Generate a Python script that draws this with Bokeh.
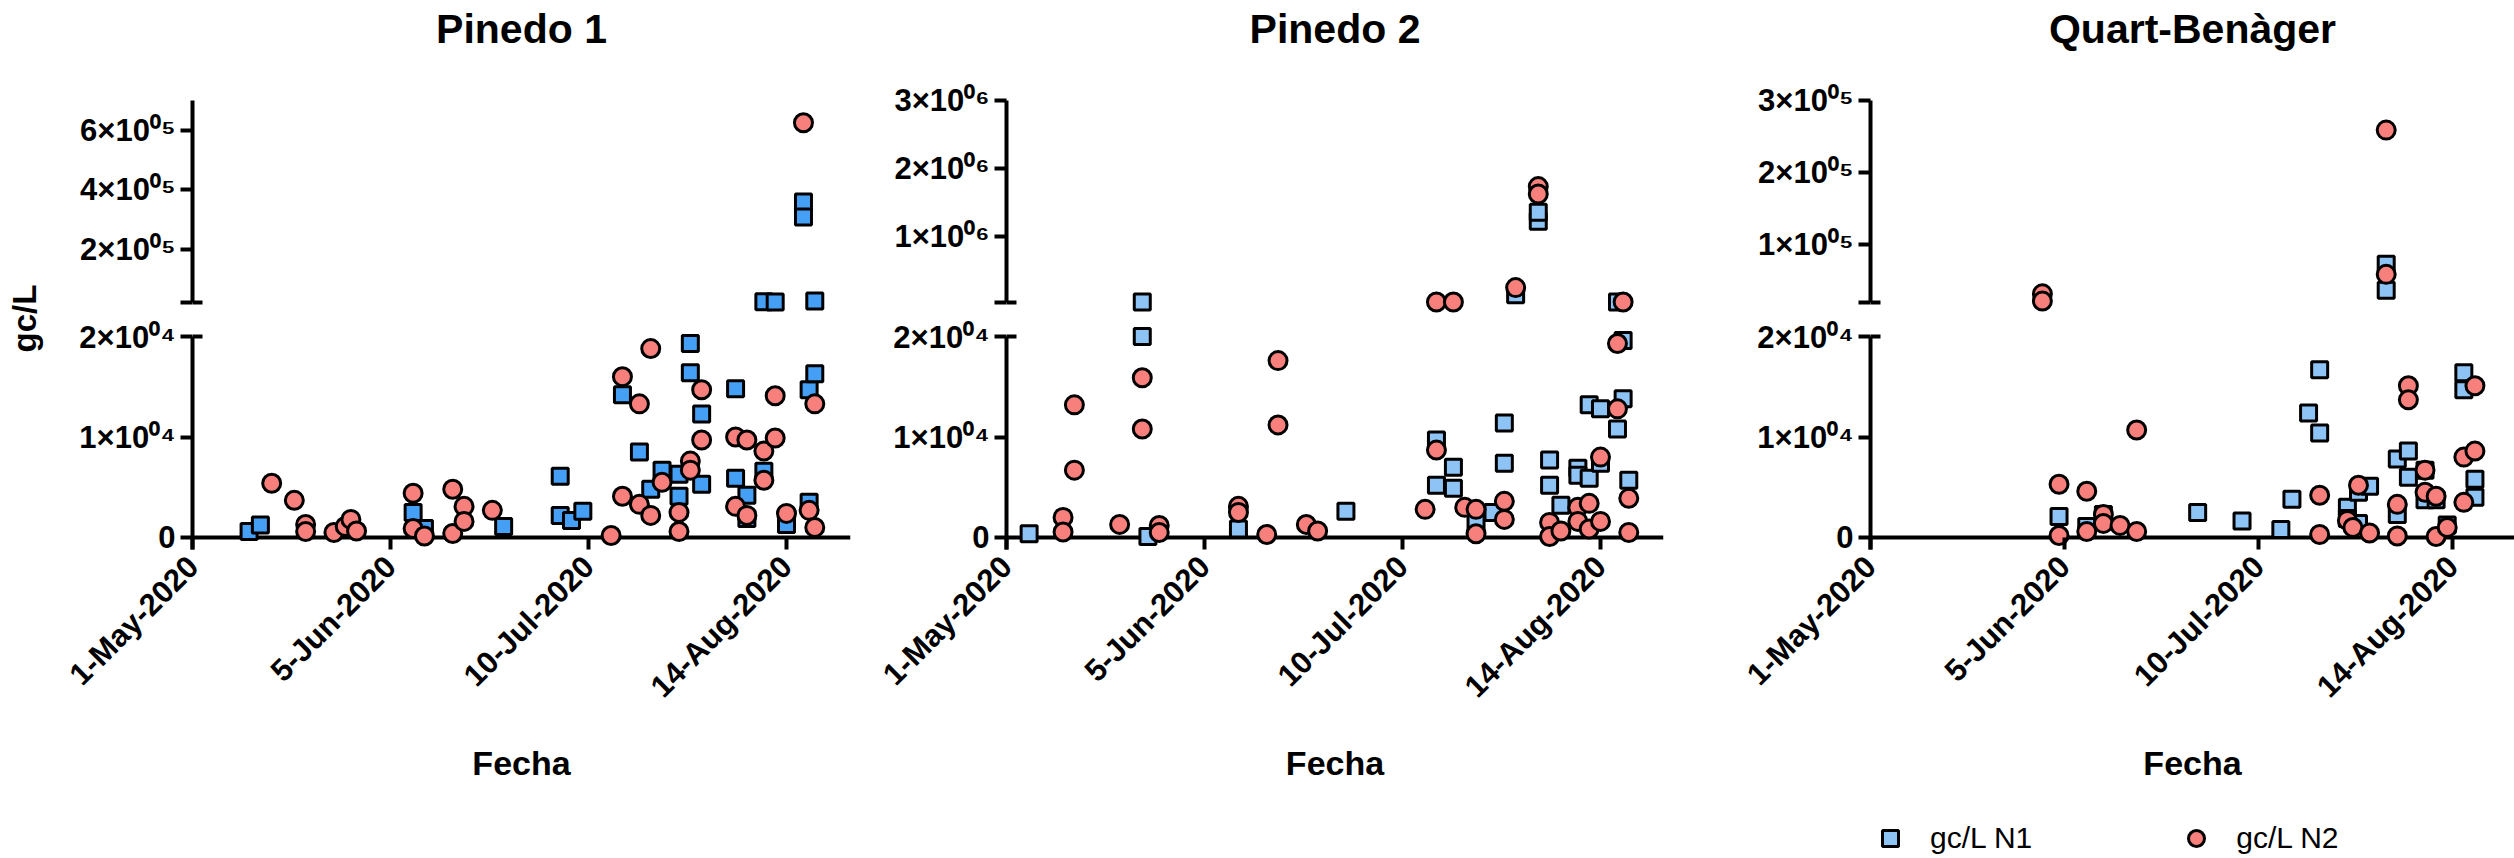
import math
import pandas as pd
from bokeh.plotting import figure
from bokeh.models import (Range1d, LinearAxis, FixedTicker, Span, Title, Legend,
                          LegendItem, ColumnDataSource, Label)
from bokeh.layouts import row, column
from bokeh.embed import file_html
from bokeh.resources import INLINE

# ---------------------------------------------------------------- data
SITES = ["Pinedo 1", "Pinedo 2", "Quart-Benàger"]
SERIES = ["gc/L N1", "gc/L N2"]
Y_LABEL = "gc/L"
X_LABEL = "Fecha"

P1_N1_DATES = ["2020-05-11", "2020-05-13", "2020-06-09", "2020-06-11", "2020-06-25",
               "2020-07-05", "2020-07-05", "2020-07-07", "2020-07-09", "2020-07-16",
               "2020-07-19", "2020-07-21", "2020-07-23", "2020-07-26", "2020-07-26",
               "2020-07-28", "2020-07-28", "2020-07-30", "2020-07-30", "2020-08-05",
               "2020-08-05", "2020-08-07", "2020-08-07", "2020-08-10", "2020-08-10",
               "2020-08-12", "2020-08-14", "2020-08-17", "2020-08-17", "2020-08-18",
               "2020-08-18", "2020-08-19", "2020-08-19"]
P1_N1_VALUES = [600, 1250, 2500, 900, 1100, 6100, 2200, 1700, 2600, 14200,
                8500, 4800, 6700, 6300, 4100, 19300, 16400, 12300, 5300, 14800,
                5900, 4200, 1900, 22400, 6600, 22000, 1300, 358000, 308000, 14700,
                3500, 16300, 25000]
P1_N2_DATES = ["2020-05-15", "2020-05-19", "2020-05-21", "2020-05-21", "2020-05-26",
               "2020-05-28", "2020-05-29", "2020-05-30", "2020-06-09", "2020-06-09",
               "2020-06-11", "2020-06-16", "2020-06-16", "2020-06-18", "2020-06-18",
               "2020-06-23", "2020-07-14", "2020-07-16", "2020-07-16", "2020-07-19",
               "2020-07-19", "2020-07-21", "2020-07-21", "2020-07-23", "2020-07-26",
               "2020-07-26", "2020-07-28", "2020-07-28", "2020-07-30", "2020-07-30",
               "2020-08-05", "2020-08-05", "2020-08-07", "2020-08-07", "2020-08-10",
               "2020-08-10", "2020-08-12", "2020-08-12", "2020-08-14", "2020-08-17",
               "2020-08-18", "2020-08-19", "2020-08-19"]
P1_N2_VALUES = [5400, 3700, 1300, 600, 500, 1100, 1800, 650, 4400, 900,
                150, 4800, 400, 3100, 1600, 2700, 200, 16000, 4100, 13300,
                3300, 18800, 2200, 5500, 2500, 600, 7600, 6700, 14700, 9700,
                10000, 3100, 9700, 2200, 8600, 5700, 14100, 9900, 2400, 625000,
                2700, 13300, 1000]

P2_N1_DATES = ["2020-05-05", "2020-05-25", "2020-05-25", "2020-05-26", "2020-06-11",
               "2020-06-30", "2020-07-16", "2020-07-16", "2020-07-19", "2020-07-19",
               "2020-07-23", "2020-07-26", "2020-07-28", "2020-07-28", "2020-07-30",
               "2020-08-03", "2020-08-03", "2020-08-05", "2020-08-05", "2020-08-07",
               "2020-08-10", "2020-08-10", "2020-08-12", "2020-08-12", "2020-08-14",
               "2020-08-14", "2020-08-17", "2020-08-17", "2020-08-18", "2020-08-18",
               "2020-08-19"]
P2_N1_VALUES = [370, 27000, 20000, 100, 850, 2600, 9700, 5200, 7000, 4900,
                1600, 2500, 11400, 7400, 135000, 1220000, 1350000, 7700, 5200, 3200,
                6900, 6200, 5900, 13200, 12800, 7400, 27000, 10800, 19600, 13800,
                5700]
P2_N2_DATES = ["2020-05-11", "2020-05-11", "2020-05-13", "2020-05-13", "2020-05-21",
               "2020-05-25", "2020-05-25", "2020-05-28", "2020-05-28", "2020-06-11",
               "2020-06-11", "2020-06-16", "2020-06-18", "2020-06-18", "2020-06-23",
               "2020-06-25", "2020-07-14", "2020-07-16", "2020-07-16", "2020-07-19",
               "2020-07-21", "2020-07-23", "2020-07-23", "2020-07-28", "2020-07-28",
               "2020-07-30", "2020-08-03", "2020-08-03", "2020-08-05", "2020-08-05",
               "2020-08-07", "2020-08-10", "2020-08-10", "2020-08-12", "2020-08-12",
               "2020-08-14", "2020-08-14", "2020-08-17", "2020-08-17", "2020-08-18",
               "2020-08-19", "2020-08-19"]
P2_N2_VALUES = [2000, 550, 13200, 6700, 1300, 15900, 10800, 1200, 500, 3100,
                2500, 300, 17600, 11200, 1300, 650, 2800, 27000, 8700, 27000,
                3000, 2800, 370, 3600, 1800, 240000, 1730000, 1620000, 1500, 100,
                650, 3000, 1600, 3400, 850, 8000, 1600, 19300, 12800, 27000,
                3900, 500]

P3_N1_DATES = ["2020-06-04", "2020-06-09", "2020-06-12", "2020-06-29", "2020-07-07",
               "2020-07-14", "2020-07-16", "2020-07-19", "2020-07-21", "2020-07-21",
               "2020-07-26", "2020-07-26", "2020-07-28", "2020-07-28", "2020-07-30",
               "2020-08-02", "2020-08-02", "2020-08-04", "2020-08-04", "2020-08-06",
               "2020-08-06", "2020-08-09", "2020-08-09", "2020-08-11", "2020-08-13",
               "2020-08-16", "2020-08-16", "2020-08-18", "2020-08-18"]
P3_N1_VALUES = [2100, 1100, 2300, 2500, 1650, 800, 3800, 12400, 16700, 10400,
                3000, 1900, 4500, 1400, 5100, 73000, 37000, 7800, 2300, 8600,
                6000, 6700, 3750, 3750, 1250, 16400, 14700, 5800, 4000]
P3_N2_DATES = ["2020-06-01", "2020-06-01", "2020-06-04", "2020-06-04", "2020-06-09",
               "2020-06-09", "2020-06-12", "2020-06-12", "2020-06-15", "2020-06-18",
               "2020-06-18", "2020-07-21", "2020-07-21", "2020-07-26", "2020-07-27",
               "2020-07-28", "2020-07-30", "2020-08-02", "2020-08-02", "2020-08-04",
               "2020-08-04", "2020-08-06", "2020-08-06", "2020-08-09", "2020-08-09",
               "2020-08-11", "2020-08-11", "2020-08-13", "2020-08-16", "2020-08-16",
               "2020-08-18", "2020-08-18"]
P3_N2_VALUES = [32000, 22000, 5300, 200, 4600, 600, 2300, 1400, 1200, 10700,
                600, 4200, 300, 1700, 1000, 5200, 450, 259000, 59000, 3300,
                150, 15100, 13700, 6700, 4500, 4100, 100, 1000, 8000, 3500,
                15100, 8600]

X_TICK_DATES = ["2020-05-01", "2020-06-05", "2020-07-10", "2020-08-14"]
X_TICK_LABELS = ["1-May-2020", "5-Jun-2020", "10-Jul-2020", "14-Aug-2020"]

BREAK_AT = 20000
LOW_TICKS = [0, 10000, 20000]
LOW_TICK_LABELS = ["0", "1×10⁰⁴", "2×10⁰⁴"]

P1_UP_MAX = 700000
P1_UP_TICKS = [200000, 400000, 600000]
P1_UP_LABELS = ["2×10⁰⁵", "4×10⁰⁵", "6×10⁰⁵"]
P2_UP_MAX = 3000000
P2_UP_TICKS = [1000000, 2000000, 3000000]
P2_UP_LABELS = ["1×10⁰⁶", "2×10⁰⁶", "3×10⁰⁶"]
P3_UP_MAX = 300000
P3_UP_TICKS = [100000, 200000, 300000]
P3_UP_LABELS = ["1×10⁰⁵", "2×10⁰⁵", "3×10⁰⁵"]

# ---------------------------------------------------------------- layout / style
FIG_H = 858
SPLIT_PX = 319       # page row where upper and lower figures meet
FRAME_BOTTOM = 549
Y0_PX = 537          # page row of value 0
LOW_TOP_PX = 336     # page row of top of lower segment
UP_BOT_PX = 302      # page row of bottom of upper segment
UP_TOP_PX = 100      # page row of top of upper segment
TITLE_MID_PX = 28    # page row of the title centre
LEGEND_TOP_PX = 804  # page row where the legend strip starts
LEGEND_LEFT = 187    # legend offset inside the third column
PX_PER_DAY = 198 / 35
LABEL_FIG_W = 62

FONT = "Liberation Sans"
CIRCLE_COLOR = "#F7807D"
SQ_DARK = "#45A0F5"
SQ_LIGHT = "#8EC4F5"
AXIS_W = 4
MARKERS = [("square", 16), ("circle", 18)]


def style_y(ax):
    ax.axis_line_width = AXIS_W
    ax.axis_line_color = "black"
    ax.major_tick_line_width = AXIS_W
    ax.major_tick_line_color = "black"
    ax.major_tick_out = 12
    ax.major_tick_in = 0
    ax.minor_tick_line_color = None
    ax.major_label_text_font = FONT
    ax.major_label_text_font_style = "bold"
    ax.major_label_text_font_size = "31px"
    ax.major_label_text_color = "black"
    ax.major_label_standoff = 5


def add_break_tick(p, x0_ms):
    # inner half of the break mark (outer half is the normal axis tick)
    brk = LinearAxis(fixed_location=x0_ms, ticker=FixedTicker(ticks=[BREAK_AT]),
                     major_label_overrides={BREAK_AT: " "})
    style_y(brk)
    brk.axis_line_color = None
    brk.major_tick_in = 10
    brk.major_tick_out = 0
    p.add_layout(brk, "left")


def base_fig(width, height, x_range, y_range, left, right, bottom):
    p = figure(width=width, height=height, x_axis_type="datetime",
               x_range=x_range, y_range=y_range,
               output_backend="svg", toolbar_location=None,
               min_border_left=left, min_border_right=right,
               min_border_top=0, min_border_bottom=bottom,
               background_fill_color="white", border_fill_color="white")
    p.outline_line_color = None
    p.xgrid.visible = False
    p.ygrid.visible = False
    return p


def scatter_pair(p, n1d, n1v, n2d, n2v, keep, sq_color):
    rs = []
    for (dates, vals), (marker, size), color in zip([(n1d, n1v), (n2d, n2v)], MARKERS,
                                                    [sq_color, CIRCLE_COLOR]):
        df = pd.DataFrame({"date": pd.to_datetime(dates), "val": vals})
        src = ColumnDataSource(df[keep(df["val"])])
        rs.append(p.scatter("date", "val", source=src, marker=marker, size=size,
                            fill_color=color, line_color="black", line_width=3))
    return rs


def make_panel(title, n1d, n1v, n2d, n2v, up_max, up_ticks, up_labels, sq_color,
               width, left, right, legend=False):
    frame_w = width - left - right
    x0 = pd.Timestamp(X_TICK_DATES[0])
    x_range = Range1d(x0, x0 + pd.Timedelta(days=frame_w / PX_PER_DAY))
    x0_ms = x0.value / 1e6
    xc_ms = (x0 + pd.Timedelta(days=frame_w / 2 / PX_PER_DAY)).value / 1e6

    # ---- upper segment
    k_up = (up_max - BREAK_AT) / (UP_BOT_PX - UP_TOP_PX)
    up = base_fig(width, SPLIT_PX, x_range,
                  Range1d(BREAK_AT - (SPLIT_PX - UP_BOT_PX) * k_up,
                          up_max + UP_TOP_PX * k_up),
                  left, right, 0)
    up.xaxis.visible = False
    scatter_pair(up, n1d, n1v, n2d, n2v, lambda v: v > BREAK_AT, sq_color)
    ya = up.yaxis[0]
    ya.ticker = FixedTicker(ticks=[BREAK_AT] + up_ticks)
    ya.major_label_overrides = dict(zip([BREAK_AT] + up_ticks, [" "] + up_labels))
    ya.bounds = (BREAK_AT, up_max)
    style_y(ya)
    add_break_tick(up, x0_ms)
    up.add_layout(Label(x=xc_ms, y=up_max + (UP_TOP_PX - TITLE_MID_PX) * k_up,
                        text=title, text_align="center", text_baseline="middle",
                        text_font=FONT, text_font_style="bold",
                        text_font_size="41px", text_color="black"))

    # ---- lower segment
    k_lo = BREAK_AT / (Y0_PX - LOW_TOP_PX)
    lo_range = Range1d(-(FRAME_BOTTOM - Y0_PX) * k_lo,
                       BREAK_AT + (LOW_TOP_PX - SPLIT_PX) * k_lo)
    lo_h = (LEGEND_TOP_PX if legend else FIG_H) - SPLIT_PX
    lo = base_fig(width, lo_h, x_range, lo_range, left, right,
                  lo_h - (FRAME_BOTTOM - SPLIT_PX))
    lo.add_layout(Span(location=0, dimension="width", line_color="black",
                       line_width=AXIS_W, level="underlay"))
    rs = scatter_pair(lo, n1d, n1v, n2d, n2v, lambda v: v <= BREAK_AT, sq_color)
    yb = lo.yaxis[0]
    yb.ticker = FixedTicker(ticks=LOW_TICKS)
    yb.major_label_overrides = dict(zip(LOW_TICKS, LOW_TICK_LABELS))
    yb.bounds = (lo_range.start, BREAK_AT)
    style_y(yb)
    add_break_tick(lo, x0_ms)

    x_ms = [pd.Timestamp(d).value // 10**6 for d in X_TICK_DATES]
    xa = lo.xaxis[0]
    xa.ticker = FixedTicker(ticks=x_ms)
    xa.major_label_overrides = dict(zip(x_ms, X_TICK_LABELS))
    xa.axis_line_color = None
    xa.major_tick_in = FRAME_BOTTOM - Y0_PX
    xa.major_tick_out = 0
    xa.major_tick_line_width = AXIS_W
    xa.major_tick_line_color = "black"
    xa.minor_tick_line_color = None
    xa.major_label_orientation = math.pi / 4
    xa.major_label_text_font = FONT
    xa.major_label_text_font_style = "bold"
    xa.major_label_text_font_size = "31px"
    xa.major_label_text_color = "black"
    xa.major_label_standoff = 12

    lo.add_layout(Title(text=X_LABEL, align="center", text_font=FONT,
                        text_font_style="bold", text_font_size="34px",
                        text_color="black", standoff=45), "below")

    parts = [up, lo]
    if legend:
        # legend strip: same sources, drawn outside this strip's visible range,
        # so only the legend keys show
        lf = figure(width=width, height=FIG_H - LEGEND_TOP_PX,
                    x_range=Range1d(0, 1), y_range=Range1d(0, 1),
                    output_backend="svg", toolbar_location=None,
                    x_axis_location=None, y_axis_location=None,
                    min_border_left=LEGEND_LEFT, min_border_right=0,
                    min_border_top=0, min_border_bottom=0,
                    background_fill_color="white", border_fill_color="white")
        lf.outline_line_color = None
        lf.xgrid.visible = False
        lf.ygrid.visible = False
        keys = [lf.scatter("date", "val", source=r.data_source, marker=m, size=s,
                           fill_color=c, line_color="black", line_width=3)
                for r, (m, s), c in zip(rs, MARKERS, [sq_color, CIRCLE_COLOR])]
        lg = Legend(items=[LegendItem(label=lab, renderers=[k])
                           for lab, k in zip(SERIES, keys)],
                    location="bottom_left", orientation="horizontal",
                    glyph_width=40, glyph_height=40,
                    label_standoff=20, spacing=144, padding=0, margin=0,
                    border_line_color=None, background_fill_alpha=0,
                    label_text_font=FONT, label_text_font_size="30px",
                    label_text_color="black")
        lf.add_layout(lg)
        parts.append(lf)
    return column(*parts, spacing=0)


# y-axis title in its own narrow strip (pixel-space ranges)
gfig = figure(width=LABEL_FIG_W, height=FIG_H, x_range=Range1d(0, LABEL_FIG_W),
              y_range=Range1d(FIG_H, 0), output_backend="svg", toolbar_location=None,
              x_axis_location=None, y_axis_location=None, min_border=0,
              background_fill_color="white", border_fill_color="white")
gfig.outline_line_color = None
gfig.xgrid.visible = False
gfig.ygrid.visible = False
gfig.add_layout(Label(x=24, y=318, text=Y_LABEL, angle=math.pi / 2,
                      text_align="center", text_baseline="middle", text_font=FONT,
                      text_font_style="bold", text_font_size="33px",
                      text_color="black"))

c1 = make_panel(SITES[0], P1_N1_DATES, P1_N1_VALUES, P1_N2_DATES, P1_N2_VALUES,
                P1_UP_MAX, P1_UP_TICKS, P1_UP_LABELS, SQ_DARK,
                870 - LABEL_FIG_W, 192 - LABEL_FIG_W, 20)
c2 = make_panel(SITES[1], P2_N1_DATES, P2_N1_VALUES, P2_N2_DATES, P2_N2_VALUES,
                P2_UP_MAX, P2_UP_TICKS, P2_UP_LABELS, SQ_LIGHT,
                813, 136, 20)
c3 = make_panel(SITES[2], P3_N1_DATES, P3_N1_VALUES, P3_N2_DATES, P3_N2_VALUES,
                P3_UP_MAX, P3_UP_TICKS, P3_UP_LABELS, SQ_LIGHT,
                831, 174, 0, legend=True)

layout = row(gfig, c1, c2, c3, spacing=0)
open("out.html", "w").write(file_html(layout, INLINE))
